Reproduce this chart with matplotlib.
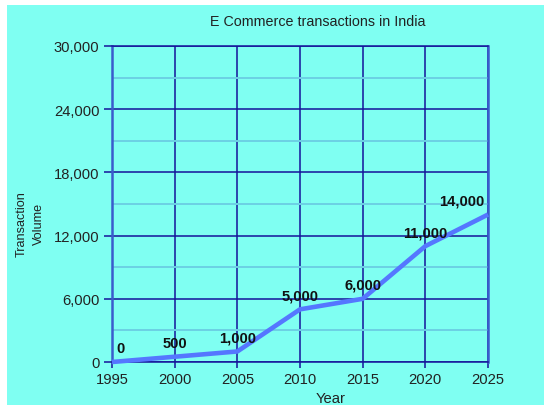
import matplotlib
matplotlib.use("Agg")
import matplotlib.pyplot as plt
from matplotlib.patches import Rectangle
from matplotlib.ticker import FuncFormatter, MultipleLocator

years = [1995, 2000, 2005, 2010, 2015, 2020, 2025]
volume = [0, 500, 1000, 5000, 6000, 11000, 14000]
labels = ["0", "500", "1,000", "5,000", "6,000", "11,000", "14,000"]
label_dx = [5.8, 0, 0, 0, 0, 0, -18.7]

W, H = 544, 406
plt.rcParams['font.family'] = ['Liberation Sans', 'DejaVu Sans']
fig = plt.figure(figsize=(W / 100, H / 100), dpi=100, facecolor='white')

bg = '#7ffff2'
fig.patches.append(Rectangle((7 / W, 0), 1 - 7 / W, 1 - 6 / H, transform=fig.transFigure,
                             facecolor=bg, edgecolor='none', zorder=-10))

ax = fig.add_axes([112 / W, (H - 363) / H, (488 - 112) / W, (363 - 47) / H])
ax.set_facecolor(bg)

navy = '#14149a'
ax.set_xlim(1995, 2025)
ax.set_ylim(0, 30000)
ax.set_xticks(years)
ax.yaxis.set_major_locator(MultipleLocator(6000))
ax.yaxis.set_minor_locator(MultipleLocator(3000))
ax.yaxis.set_major_formatter(FuncFormatter(lambda v, p: f"{int(v):,}"))

ax.grid(True, which='major', color=navy, linewidth=1.1, zorder=1)
ax.grid(True, which='minor', axis='y', color='#6cd0e4', linewidth=1.4, zorder=1)

ax.tick_params(axis='both', which='major', labelsize=10.6, colors='#222222')
ax.tick_params(axis='y', which='major', length=6, width=1.1, color=navy, pad=3)
ax.tick_params(axis='y', which='minor', length=0)
ax.tick_params(axis='x', which='major', length=4, width=1.1, color=navy, pad=3)

for s in ['left', 'right']:
    ax.spines[s].set_color('#3a5ccc')
    ax.spines[s].set_linewidth(1.8)
ax.spines['top'].set_color(navy)
ax.spines['bottom'].set_color(navy)
ax.spines['top'].set_linewidth(1.1)
ax.spines['bottom'].set_linewidth(1.1)

ax.plot(years, volume, color='#5577ff', linewidth=3.3, solid_capstyle='butt', zorder=3, clip_on=False)

for x, y, t, dx in zip(years, volume, labels, label_dx):
    ax.annotate(t, (x, y), xytext=(dx, 10), textcoords='offset points', ha='center', va='center',
                fontsize=10.6, fontweight='bold', color='#111111', zorder=4)

fig.text(318 / W, 1 - 22 / H, "E Commerce transactions in India", ha='center', va='center',
         fontsize=10.3, color='#222222')
fig.text(30 / W, 1 - 224 / H, "Transaction\nVolume", ha='center', va='center', rotation=90,
         fontsize=9.1, color='#222222', linespacing=1.55)
fig.text(331 / W, 1 - 399 / H, "Year", ha='center', va='center', fontsize=10.6, color='#222222')

fig.savefig("out.png", dpi=100, facecolor='white')
